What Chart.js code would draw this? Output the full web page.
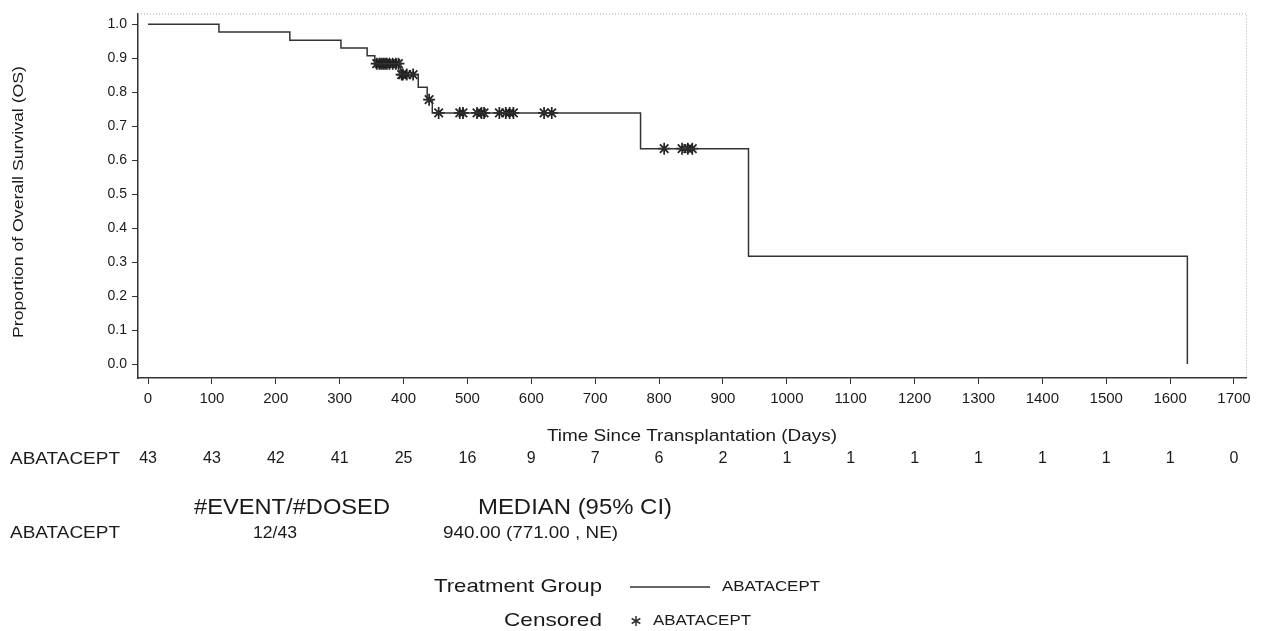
<!DOCTYPE html>
<html>
<head>
<meta charset="utf-8">
<script src="https://cdn.jsdelivr.net/npm/chart.js@4"></script>
<style>
  html, body { margin: 0; padding: 0; background: #fff; }
  #wrap { position: relative; width: 1266px; height: 631px; }
</style>
</head>
<body>
<div id="wrap"><canvas id="km"></canvas></div>
<script>
// KM step curve: event times (days) and survival after each step
const stepTimes = [0, 111, 222, 302, 343, 355, 395, 423, 437, 445, 771, 940, 1627];
const stepSurv  = [1, 0.977, 0.953, 0.930, 0.907, 0.884, 0.852, 0.815, 0.778, 0.739, 0.634, 0.317, 0];

// censored observations
const censorTimes = [358, 362, 365, 368, 371, 374, 378, 383, 388, 392, 397, 399, 405, 415, 440,
                     455, 488, 493, 515, 522, 526, 550, 560, 566, 572, 620, 632, 808, 836, 845, 852];
const censorSurv  = [0.884, 0.884, 0.884, 0.884, 0.884, 0.884, 0.884, 0.884, 0.884, 0.884, 0.852, 0.852, 0.852, 0.852, 0.778,
                     0.739, 0.739, 0.739, 0.739, 0.739, 0.739, 0.739, 0.739, 0.739, 0.739, 0.739, 0.739, 0.634, 0.634, 0.634, 0.634];

// axes
const xTicks = [0, 100, 200, 300, 400, 500, 600, 700, 800, 900, 1000, 1100, 1200, 1300, 1400, 1500, 1600, 1700];
const yTicks = [0, 0.1, 0.2, 0.3, 0.4, 0.5, 0.6, 0.7, 0.8, 0.9, 1.0];

// number at risk under each x tick
const atRisk = [43, 43, 42, 41, 25, 16, 9, 7, 6, 2, 1, 1, 1, 1, 1, 1, 1, 0];

const groupName = 'ABATACEPT';
const eventsDosed = '12/43';
const medianCI = '940.00 (771.00 , NE)';

const FONT = "'Liberation Sans', Arial, sans-serif";
const INK = '#1a1a1a';

// draw text with a given font size, stretched to a target width (the source image is a little wide)
function fillFit(ctx, text, x, y, size, width, align) {
    ctx.font = size + 'px ' + FONT;
    const w = ctx.measureText(text).width;
    const sx = width ? width / w : 1;
    let left = x;
    if (align === 'center') left = x - w * sx / 2;
    if (align === 'right') left = x - w * sx;
    ctx.save();
    ctx.translate(left, y);
    ctx.scale(sx, 1);
    ctx.textAlign = 'left';
    ctx.fillText(text, 0, 0);
    ctx.restore();
}

const textPlugin = {
    id: 'kmText',
    afterDraw(chart) {
        const ctx = chart.ctx;
        const area = chart.chartArea;
        const xs = chart.scales.x;
        ctx.save();

        // dotted top and right frame
        ctx.strokeStyle = '#b0b0b0';
        ctx.lineWidth = 1;
        ctx.setLineDash([1, 2]);
        ctx.beginPath();
        ctx.moveTo(area.left, area.top + 0.5);
        ctx.lineTo(area.right + 0.5, area.top + 0.5);
        ctx.lineTo(area.right + 0.5, area.bottom);
        ctx.stroke();
        ctx.setLineDash([]);

        ctx.fillStyle = INK;
        ctx.textBaseline = 'middle';

        // y title
        ctx.save();
        ctx.translate(19, 202);
        ctx.rotate(-Math.PI / 2);
        fillFit(ctx, 'Proportion of Overall Survival (OS)', 0, 0, 15, 272, 'center');
        ctx.restore();

        // x title
        fillFit(ctx, 'Time Since Transplantation (Days)', 692, 437, 16, 290, 'center');

        // number at risk row
        fillFit(ctx, groupName, 10, 459, 17, 110, 'left');
        ctx.font = '16px ' + FONT;
        ctx.textAlign = 'center';
        xTicks.forEach((t, i) => {
            ctx.fillText(String(atRisk[i]), xs.getPixelForValue(t), 459);
        });

        // summary table
        fillFit(ctx, '#EVENT/#DOSED', 194, 508, 22, 196, 'left');
        fillFit(ctx, 'MEDIAN (95% CI)', 478, 508, 22, 194, 'left');
        fillFit(ctx, groupName, 10, 534, 16, 110, 'left');
        fillFit(ctx, eventsDosed, 253, 534, 16, 44, 'left');
        fillFit(ctx, medianCI, 443, 534, 16, 175, 'left');

        // legend
        fillFit(ctx, 'Treatment Group', 602, 587, 19, 168, 'right');
        fillFit(ctx, 'Censored', 602, 621, 19, 98, 'right');
        ctx.strokeStyle = '#333';
        ctx.lineWidth = 1.5;
        ctx.beginPath();
        ctx.moveTo(630, 587);
        ctx.lineTo(710, 587);
        ctx.stroke();
        fillFit(ctx, groupName, 722, 587, 15, 98, 'left');
        fillFit(ctx, groupName, 653, 621, 15, 98, 'left');
        // asterisk symbol
        ctx.lineWidth = 1.5;
        ctx.beginPath();
        for (let k = 0; k < 3; k++) {
            const a = Math.PI / 2 + k * Math.PI / 3;
            ctx.moveTo(636 + 5 * Math.cos(a), 621 + 5 * Math.sin(a));
            ctx.lineTo(636 - 5 * Math.cos(a), 621 - 5 * Math.sin(a));
        }
        ctx.stroke();

        ctx.restore();
    }
};

new Chart(document.getElementById('km'), {
    type: 'line',
    data: {
        datasets: [{
            label: groupName,
            data: stepTimes.map((t, i) => ({ x: t, y: stepSurv[i] })),
            borderColor: '#333',
            borderWidth: 1.5,
            stepped: true,
            pointRadius: 0,
            fill: false
        }, {
            label: 'Censored',
            data: censorTimes.map((t, i) => ({ x: t, y: censorSurv[i] })),
            showLine: false,
            pointStyle: 'star',
            pointRadius: 6,
            borderColor: '#222',
            borderWidth: 1.7,
            backgroundColor: '#222'
        }]
    },
    options: {
        responsive: true,
        maintainAspectRatio: false,
        animation: false,
        layout: { padding: { left: 0, top: 12, right: 20, bottom: 0 } },
        plugins: {
            legend: { display: false },
            tooltip: { enabled: false }
        },
        scales: {
            x: {
                type: 'linear',
                min: -15.7,
                max: 1718.8,
                afterBuildTicks: s => { s.ticks = xTicks.map(v => ({ value: v })); },
                afterFit: s => { s.height = 253; },
                grid: { display: true, drawOnChartArea: false, drawTicks: true, tickLength: 6, color: '#333' },
                border: { display: true, color: '#333', width: 1.5 },
                ticks: {
                    color: INK,
                    font: { family: FONT, size: 15 },
                    padding: 6,
                    maxRotation: 0,
                    autoSkip: false,
                    callback: v => String(v)
                }
            },
            y: {
                min: -0.041,
                max: 1.032,
                afterBuildTicks: s => { s.ticks = yTicks.map(v => ({ value: v })); },
                afterFit: s => { s.width = 138; },
                grid: { display: true, drawOnChartArea: false, drawTicks: true, tickLength: 6, color: '#333' },
                border: { display: true, color: '#333', width: 1.5 },
                ticks: {
                    color: INK,
                    font: { family: FONT, size: 14 },
                    padding: 5,
                    autoSkip: false,
                    callback: v => Number(v).toFixed(1)
                }
            }
        }
    },
    plugins: [textPlugin]
});
</script>
</body>
</html>
